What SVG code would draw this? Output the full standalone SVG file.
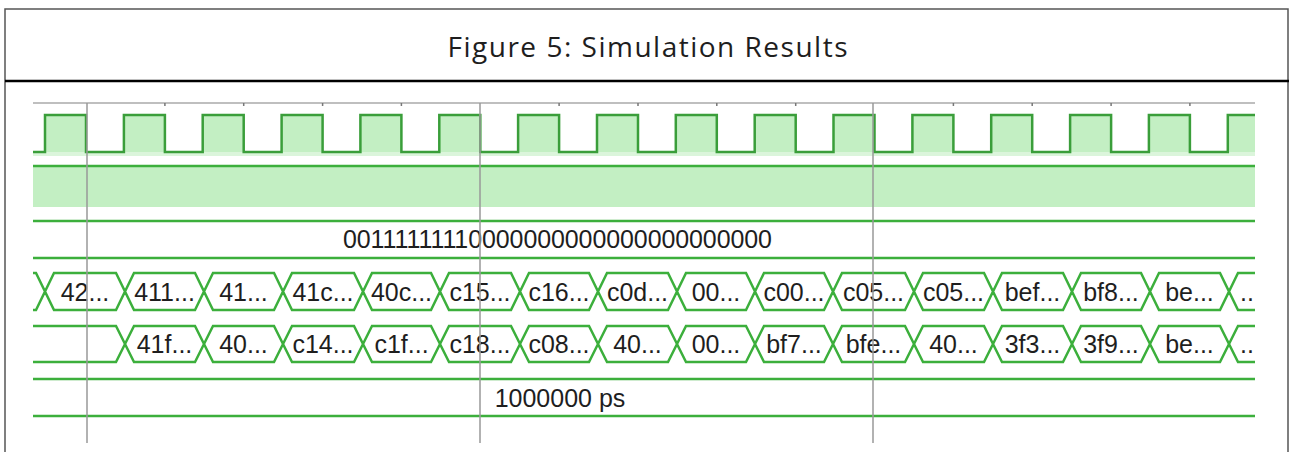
<svg xmlns="http://www.w3.org/2000/svg" width="1290" height="452" viewBox="0 0 1290 452">
<style>
.frame{fill:none;stroke:#555;stroke-width:1.5}
.sep{stroke:#000;stroke-width:2.5}
.title{font-family:"Open Sans","Liberation Sans",sans-serif;font-size:28px;fill:#1e1e1e;text-anchor:middle}
.wv{fill:none;stroke:#3caf3c;stroke-width:2.5;stroke-linejoin:miter}
.clk{fill:none;stroke:#3a9e3a;stroke-width:2.5}
.lite{fill:#c3efc3}
.cur{stroke:#999;stroke-width:1.5}
.tick{stroke:#777;stroke-width:1.5}
.lbl{font-family:"Liberation Sans","DejaVu Sans",sans-serif;font-size:25px;fill:#1e1e1e;text-anchor:middle}
</style>
<defs>
<clipPath id="wclip"><rect x="33" y="100" width="1222" height="352"/></clipPath>
</defs>
<g id="frame">
<path class="frame" d="M5,452 V9 H1288 V452"/>
<line class="sep" x1="5" y1="81" x2="1289" y2="81"/>
</g>
<g id="title">
<text class="title" x="647.5" y="57" textLength="400" lengthAdjust="spacing">Figure 5: Simulation Results</text>
</g>
<g id="waveforms" clip-path="url(#wclip)">
<g id="ruler">
<line x1="33" y1="103" x2="1255" y2="103" stroke="#aaa" stroke-width="1.5"/>
<path class="tick" d="M164.9,103v3M243.7,103v3M322.6,103v3M401.4,103v3M559.1,103v3M638,103v3M716.8,103v3M795.7,103v3M953.4,103v3M1032.2,103v3M1111.1,103v3M1189.9,103v3"/>
</g>
<g id="clock">
<path class="lite" d="M45,115H86V152H45ZM123.9,115H164.9V152H123.9ZM202.7,115H243.7V152H202.7ZM281.6,115H322.6V152H281.6ZM360.4,115H401.4V152H360.4ZM439.3,115H480.3V152H439.3ZM518.1,115H559.1V152H518.1ZM597,115H638V152H597ZM675.8,115H716.8V152H675.8ZM754.7,115H795.7V152H754.7ZM833.5,115H874.5V152H833.5ZM912.4,115H953.4V152H912.4ZM991.2,115H1032.2V152H991.2ZM1070.1,115H1111.1V152H1070.1ZM1148.9,115H1189.9V152H1148.9ZM1227.8,115H1260V152H1227.8Z"/>
<rect class="lite" x="33" y="152" width="1222" height="4" opacity="0.6"/>
<path class="clk" d="M33,152H45V115H86V152H123.9V115H164.9V152H202.7V115H243.7V152H281.6V115H322.6V152H360.4V115H401.4V152H439.3V115H480.3V152H518.1V115H559.1V152H597V115H638V152H675.8V115H716.8V152H754.7V115H795.7V152H833.5V115H874.5V152H912.4V115H953.4V152H991.2V115H1032.2V152H1070.1V115H1111.1V152H1148.9V115H1189.9V152H1227.8V115H1260"/>
</g>
<g id="row2">
<rect class="lite" x="33" y="166" width="1222" height="41"/>
<line class="wv" x1="33" y1="166" x2="1255" y2="166"/>
</g>
<g id="row3">
<path class="wv" d="M33,221H1255M33,258H1255"/>
<text class="lbl" x="557.5" y="248" textLength="429" lengthAdjust="spacing">00111111110000000000000000000000</text>
</g>
<g id="row4">
<path class="wv" d="M-40,291.5L-31,273H36L45,291.5L36,310H-31Z M45,291.5L54,273H116L125,291.5L116,310H54Z M125,291.5L134,273H195L204,291.5L195,310H134Z M204,291.5L213,273H274L283,291.5L274,310H213Z M283,291.5L292,273H354L363,291.5L354,310H292Z M363,291.5L372,273H431L440,291.5L431,310H372Z M440,291.5L449,273H511L520,291.5L511,310H449Z M520,291.5L529,273H589L598,291.5L589,310H529Z M598,291.5L607,273H668L677,291.5L668,310H607Z M677,291.5L686,273H746L755,291.5L746,310H686Z M755,291.5L764,273H824L833,291.5L824,310H764Z M833,291.5L842,273H905L914,291.5L905,310H842Z M914,291.5L923,273H984L993,291.5L984,310H923Z M993,291.5L1002,273H1063L1072,291.5L1063,310H1002Z M1072,291.5L1081,273H1141L1150,291.5L1141,310H1081Z M1150,291.5L1159,273H1220L1229,291.5L1220,310H1159Z M1229,291.5L1238,273H1300V310H1238Z"/>
<text class="lbl" y="300.5"><tspan x="85">42...</tspan><tspan x="164.5">411...</tspan><tspan x="243.5">41...</tspan><tspan x="323">41c...</tspan><tspan x="401.5">40c...</tspan><tspan x="480">c15...</tspan><tspan x="559">c16...</tspan><tspan x="637.5">c0d...</tspan><tspan x="716">00...</tspan><tspan x="794">c00...</tspan><tspan x="873.5">c05...</tspan><tspan x="953.5">c05...</tspan><tspan x="1032.5">bef...</tspan><tspan x="1111">bf8...</tspan><tspan x="1189.5">be...</tspan><tspan x="1247">..</tspan></text>
</g>
<g id="row5">
<path class="wv" d="M-40,344L-31,326H116L125,344L116,362H-31Z M125,344L134,326H195L204,344L195,362H134Z M204,344L213,326H274L283,344L274,362H213Z M283,344L292,326H354L363,344L354,362H292Z M363,344L372,326H431L440,344L431,362H372Z M440,344L449,326H511L520,344L511,362H449Z M520,344L529,326H589L598,344L589,362H529Z M598,344L607,326H668L677,344L668,362H607Z M677,344L686,326H746L755,344L746,362H686Z M755,344L764,326H824L833,344L824,362H764Z M833,344L842,326H905L914,344L905,362H842Z M914,344L923,326H984L993,344L984,362H923Z M993,344L1002,326H1063L1072,344L1063,362H1002Z M1072,344L1081,326H1141L1150,344L1141,362H1081Z M1150,344L1159,326H1220L1229,344L1220,362H1159Z M1229,344L1238,326H1300V362H1238Z"/>
<text class="lbl" y="353"><tspan x="164.5">41f...</tspan><tspan x="243.5">40...</tspan><tspan x="323">c14...</tspan><tspan x="401.5">c1f...</tspan><tspan x="480">c18...</tspan><tspan x="559">c08...</tspan><tspan x="637.5">40...</tspan><tspan x="716">00...</tspan><tspan x="794">bf7...</tspan><tspan x="873.5">bfe...</tspan><tspan x="953.5">40...</tspan><tspan x="1032.5">3f3...</tspan><tspan x="1111">3f9...</tspan><tspan x="1189.5">be...</tspan><tspan x="1247">..</tspan></text>
</g>
<g id="row6">
<path class="wv" d="M33,379H1255M33,416H1255"/>
<text class="lbl" x="560" y="407">1000000 ps</text>
</g>
<g id="cursors">
<path class="cur" d="M87,103V443M480,103V443M873,103V443"/>
</g>
</g>
</svg>
